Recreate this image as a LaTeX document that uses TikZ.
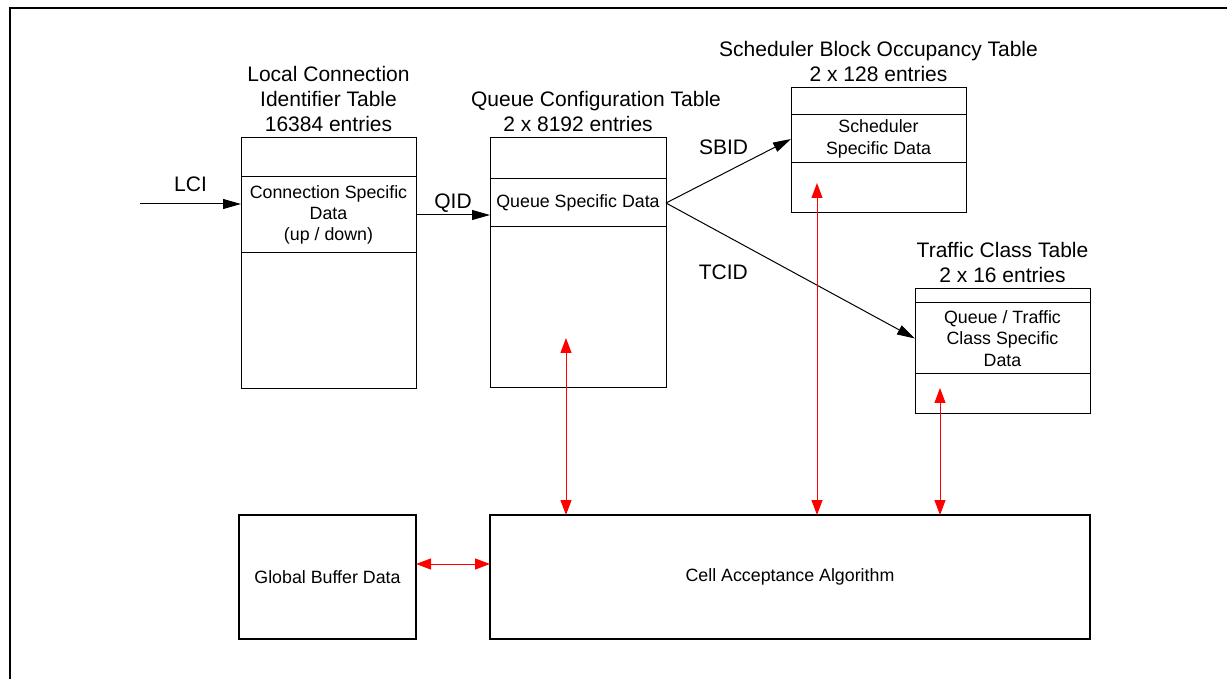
\documentclass[tikz,border=0pt]{standalone}
\usepackage{fontspec}
\setmainfont{Liberation Sans}
\usepackage{tikz}
\usetikzlibrary{arrows.meta,positioning}
\definecolor{arrowred}{RGB}{255,0,0}
\newcommand{\tabfont}{\fontsize{10.5}{12.5}\selectfont}
\newcommand{\cellfont}{\fontsize{8.9}{10.7}\selectfont}

\begin{document}
\begin{tikzpicture}[x=0.5pt, y=-0.5pt,
  tablebox/.style={draw, line width=0.5pt, minimum width=87.5pt, outer sep=0pt, inner sep=0pt},
  rowbox/.style={draw, line width=0.5pt, minimum width=87.5pt, outer sep=0pt, inner sep=1pt, align=center, font=\cellfont},
  caption/.style={align=center, inner sep=0pt, font=\tabfont},
  blockbox/.style={draw, line width=0.6pt, minimum height=62pt, outer sep=0pt, font=\cellfont},
  idlabel/.style={inner sep=1pt, font=\tabfont},
  arr/.style={-{Triangle[length=9pt,width=5pt]}, line width=0.5pt},
  redarr/.style={{Triangle[length=7.5pt,width=5.5pt]}-{Triangle[length=7.5pt,width=5.5pt]}, line width=0.5pt, arrowred}
]
\useasboundingbox (0,0) rectangle (1227,679);
\draw[line width=1.2pt] (10,679) -- (10,8) -- (1227,8);

% tables
\node[tablebox, minimum height=125.5pt] (lcit) at (328.5,263.5) {};
\node[caption, above=3pt of lcit] (lcicap) {Local Connection\\Identifier Table\\16384 entries};
\node[rowbox, minimum height=38pt, below=19.5pt of lcit.north] (lcirow) {Connection Specific\\Data\\(up / down)};

\node[tablebox, minimum width=88pt, minimum height=125pt] (qct) at (578,263) {};
\node[caption, above=3pt of qct] (qccap) {\hspace*{18pt}Queue Configuration Table\\2 x 8192 entries};
\node[rowbox, minimum width=88pt, minimum height=24pt, below=20.5pt of qct.north] (qcrow) {Queue Specific Data};

\node[tablebox, minimum height=62.5pt] (sbot) at (878.5,150.5) {};
\node[caption, above=3pt of sbot] (sbcap) {Scheduler Block Occupancy Table\\2 x 128 entries};
\node[rowbox, minimum height=24pt, below=13.5pt of sbot.north] (sbrow) {Scheduler\\Specific Data};

\node[tablebox, minimum height=62.5pt] (tct) at (1002.5,351.5) {};
\node[caption, above=3pt of tct] (tccap) {Traffic Class Table\\2 x 16 entries};
\node[rowbox, minimum height=35.5pt, below=7pt of tct.north] (tcrow) {Queue / Traffic\\Class Specific\\Data};

% bottom blocks
\node[blockbox, minimum width=88.5pt] (gbd) at (327.5,577) {Global Buffer Data};
\node[blockbox, minimum width=300pt] (caa) at (790,577) {Cell Acceptance Algorithm};

\coordinate (lciin) at (140,204);
\coordinate (qcin) at (566,338);
\coordinate (sbin) at (817,183);
\coordinate (tcin) at (940,388);

% lookups
\draw[arr] (lciin) -- node[idlabel, above=5pt] {LCI} (lciin -| lcirow.west);
\draw[arr] (lcirow.east) -- node[idlabel, above=0pt] {QID} (lcirow.east -| qcrow.west);
\draw[arr] (qcrow.east) -- node[idlabel, pos=0.46, above=8pt] {SBID} (sbrow.west);
\draw[arr] (qcrow.east) -- node[idlabel, pos=0.23, below=14pt] {TCID} (tcrow.west);

% algorithm access
\draw[redarr] ([yshift=6.5pt]gbd.east) -- ([yshift=6.5pt]caa.west);
\draw[redarr] (qcin) -- (qcin |- caa.north);
\draw[redarr] (sbin) -- (sbin |- caa.north);
\draw[redarr] (tcin) -- (tcin |- caa.north);
\end{tikzpicture}
\end{document}
